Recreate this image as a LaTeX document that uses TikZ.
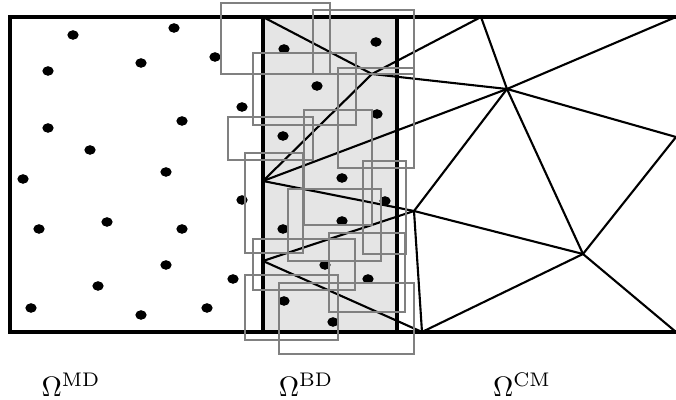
\documentclass[tikz,border=0pt]{standalone}
\begin{document}
\begin{tikzpicture}
  [x=0.125cm,y=-0.125cm,
   mesh/.style={line width=0.75pt},
   patch/.style={gray,line width=0.7pt},
   edge/.style={line width=1.5pt}]
  \useasboundingbox (0,0) rectangle (67.6,40);

  % bridging band
  \fill[black!10] (26.3,1.7) rectangle (39.7,33.2);

  % mesh vertices
  \coordinate (tl) at (26.3,1.7);
  \coordinate (tr) at (67.6,1.7);
  \coordinate (bl) at (26.3,33.2);
  \coordinate (br) at (67.6,33.2);
  \coordinate (a) at (48.1,1.7);
  \coordinate (b) at (50.7,8.9);
  \coordinate (c) at (67.6,13.7);
  \coordinate (d) at (41.4,21.1);
  \coordinate (e) at (58.3,25.4);
  \coordinate (f) at (42.2,33.2);
  \coordinate (g) at (37.2,7.4);
  \coordinate (h) at (26.3,18.1);
  \coordinate (i) at (26.3,26.1);

  \foreach \from/\to in {tl/g,g/a,g/b,g/h,h/b,h/d,d/b,b/a,b/tr,b/c,b/e,c/e,
                         e/br,e/f,d/e,d/f,i/d,i/f}
    \draw[mesh] (\from) -- (\to);

  % outer frame
  \draw[line width=1.2pt] (67.6,1.7) -- (1.0,1.7) -- (1.0,33.2) -- (67.6,33.2);
  \draw[edge] (tl) -- (bl);
  \draw[edge] (39.7,1.7) -- (39.7,33.2);

  % atoms
  \foreach \x/\y in {7.3/3.5,17.4/2.8,21.5/5.7,4.8/7.1,14.1/6.3,24.2/10.7,
                     4.8/12.8,18.2/12.1,9.0/15.0,2.3/17.9,16.6/17.2,24.2/20.0,
                     3.9/22.9,10.7/22.2,18.2/22.9,16.6/26.5,9.8/28.6,23.3/27.9,
                     3.1/30.8,14.1/31.5,20.7/30.8,
                     28.4/4.9,37.6/4.2,31.7/8.6,37.7/11.4,28.3/13.6,34.2/17.8,
                     38.5/20.1,34.2/22.1,28.3/22.9,32.5/26.5,36.8/27.9,
                     28.4/30.1,33.3/32.2}
    \fill (\x,\y) ellipse [x radius=2pt,y radius=1.7pt];

  % patches
  \foreach \a/\b/\c/\d in {22.1/0.3/33.0/7.4,31.3/1.0/41.4/7.4,
                           25.3/5.3/35.6/12.5,33.8/6.8/41.4/16.8,
                           22.8/11.7/31.3/16.0,30.4/11.0/37.2/22.5,
                           24.5/15.3/30.3/25.3,36.3/16.1/40.6/25.4,
                           28.8/18.9/38.1/26.1,25.3/23.9/35.5/29.0,
                           32.9/23.3/40.5/31.2,24.5/27.5/33.8/34.0,
                           27.9/28.3/41.4/35.4}
    \draw[patch] (\a,\b) rectangle (\c,\d);

  \node (md) at (7.1,38.5) {$\Omega^{\mathrm{MD}}$};
  \node (bd) at (30.6,38.5) {$\Omega^{\mathrm{BD}}$};
  \node (cm) at (52.2,38.5) {$\Omega^{\mathrm{CM}}$};
\end{tikzpicture}
\end{document}
